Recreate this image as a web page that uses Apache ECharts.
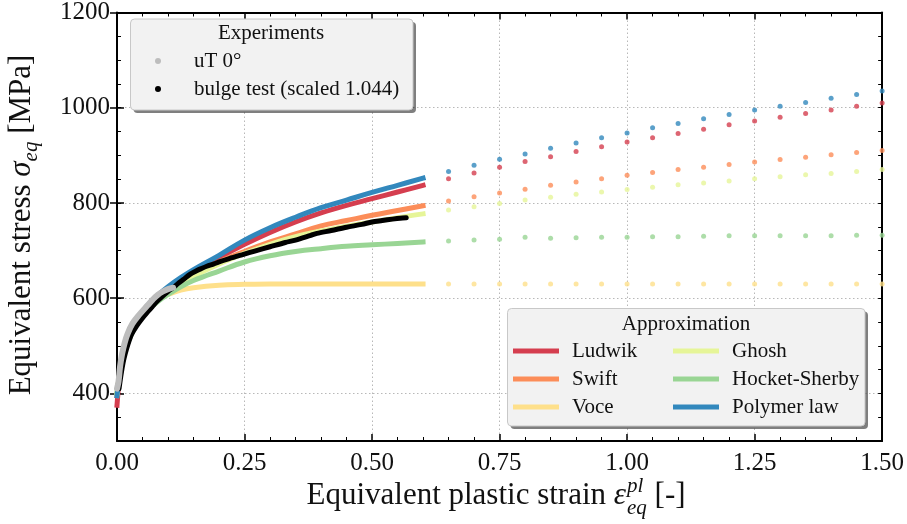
<!DOCTYPE html>
<html>
<head>
<meta charset="utf-8">
<script src="https://cdn.jsdelivr.net/npm/echarts@6/dist/echarts.min.js"></script>
<style>
  html, body { margin: 0; padding: 0; background: #ffffff; }
  #chart { width: 907px; height: 524px; }
</style>
</head>
<body>
<div id="chart"></div>
<script>
// ---- Fitted hardening curves over the measured range (strain, stress in MPa) ----
const fitStrain    = [0, 0.005, 0.01, 0.02, 0.03, 0.04, 0.06, 0.08, 0.1, 0.125, 0.15, 0.2, 0.25, 0.3, 0.35, 0.4, 0.45, 0.5, 0.55, 0.6];
const ludwik       = [375, 435, 466, 508, 535, 555, 583, 604, 621, 640, 656, 685, 713, 738, 760, 779, 795, 809, 823, 837];
const swift        = [395, 440, 468, 508, 534, 553, 580, 600, 617, 635, 650, 676, 698, 718, 735, 752, 763, 774, 784, 794];
const voce         = [400, 440, 468, 508, 533, 552, 578, 597, 608, 617, 622, 627, 629, 630, 630, 630, 630, 630, 630, 630];
const ghosh        = [400, 438, 465, 505, 531, 550, 577, 597, 614, 632, 646, 672, 694, 713, 729, 741, 751, 760, 769, 777];
const hocketSherby = [400, 436, 462, 502, 528, 547, 574, 593, 608, 624, 637, 657, 676, 689, 698, 704, 709, 712, 715, 718];
const polymerLaw   = [395, 440, 470, 512, 538, 557, 585, 606, 624, 643, 660, 690, 722, 748, 770, 790, 806, 822, 837, 852];

// ---- Extrapolated values beyond the measured range ----
const extStrain       = [0.65, 0.7, 0.75, 0.8, 0.85, 0.9, 0.95, 1.0, 1.05, 1.1, 1.15, 1.2, 1.25, 1.3, 1.35, 1.4, 1.45, 1.5];
const ludwikExt       = [851, 863, 875, 887, 897, 908, 918, 928, 937, 946, 955, 964, 972, 980, 988, 995, 1003, 1010];
const swiftExt        = [804, 813, 821, 829, 837, 844, 851, 858, 864, 870, 875, 881, 886, 891, 896, 901, 906, 910];
const voceExt         = [630, 630, 630, 630, 630, 630, 630, 630, 630, 630, 630, 630, 630, 630, 630, 630, 630, 630];
const ghoshExt        = [785, 792, 799, 806, 812, 818, 823, 828, 833, 838, 842, 846, 851, 855, 859, 862, 866, 870];
const hocketSherbyExt = [720, 722, 724, 728, 726, 727, 728, 728, 729, 729, 730, 731, 731, 731, 731, 731, 732, 732];
const polymerLawExt   = [866, 879, 892, 903, 915, 926, 937, 947, 958, 967, 977, 986, 995, 1003, 1011, 1020, 1028, 1035];

// ---- Experiments ----
const utStrain    = [0, 0.003, 0.006, 0.01, 0.015, 0.02, 0.03, 0.045, 0.06, 0.07, 0.08, 0.09, 0.1, 0.11];
const utStress    = [410, 425, 456, 483, 506, 523, 546, 567, 585, 597, 607, 614, 619, 622];
const bulgeStrain = [0.004, 0.008, 0.012, 0.016, 0.022, 0.029, 0.038, 0.049, 0.06, 0.069, 0.08, 0.09, 0.1, 0.11, 0.12, 0.13, 0.143, 0.155, 0.165, 0.176, 0.19, 0.2, 0.22, 0.248, 0.27, 0.3, 0.33, 0.35, 0.38, 0.392, 0.42, 0.45, 0.48, 0.5, 0.52, 0.54, 0.555, 0.567];
const bulgeStress = [410, 440, 465, 483, 505, 525, 541, 557, 571, 582, 595, 605, 614, 622, 631, 639, 650, 657, 662, 667, 672, 676, 683, 692, 699, 708, 717, 722, 732, 736, 742, 749, 755, 760, 763, 766, 768, 769];

// ---- Axis ticks ----
const xMajorTicks = [0, 0.25, 0.5, 0.75, 1.0, 1.25, 1.5];
const yMajorTicks = [400, 600, 800, 1000, 1200];

const models = [
  { name: 'Ludwik',        fit: ludwik,       ext: ludwikExt,       color: '#d53e4f' },
  { name: 'Swift',         fit: swift,        ext: swiftExt,        color: '#fc8d59' },
  { name: 'Voce',          fit: voce,         ext: voceExt,         color: '#fee08b' },
  { name: 'Ghosh',         fit: ghosh,        ext: ghoshExt,        color: '#e6f598' },
  { name: 'Hocket-Sherby', fit: hocketSherby, ext: hocketSherbyExt, color: '#99d594' },
  { name: 'Polymer law',   fit: polymerLaw,   ext: polymerLawExt,   color: '#3288bd' }
];

const SERIF = '"Liberation Serif", "DejaVu Serif", serif';
const INK = '#111111';

const zip = (xs, ys) => xs.map((x, i) => [x, ys[i]]);

const series = [];
models.forEach(m => {
  series.push({
    type: 'line', name: m.name, data: zip(fitStrain, m.fit),
    xAxisIndex: 0, yAxisIndex: 1,
    symbol: 'none', smooth: 0.4,
    lineStyle: { width: 5, color: m.color, cap: 'square' },
    itemStyle: { color: m.color },
    silent: true, z: 2
  });
});
models.forEach(m => {
  series.push({
    type: 'scatter', name: m.name, data: zip(extStrain, m.ext),
    xAxisIndex: 0, yAxisIndex: 1,
    symbol: 'circle', symbolSize: 5,
    itemStyle: { color: m.color },
    silent: true, z: 2
  });
});
series.push({
  type: 'line', name: 'bulge test (scaled 1.044)', data: zip(bulgeStrain, bulgeStress),
  xAxisIndex: 0, yAxisIndex: 1, symbol: 'none', smooth: 0.3,
  lineStyle: { width: 5, color: '#000000', cap: 'round', join: 'round' },
  itemStyle: { color: '#000000' }, silent: true, z: 3
});
series.push({
  type: 'line', name: 'uT 0°', data: zip(utStrain, utStress),
  xAxisIndex: 0, yAxisIndex: 1, symbol: 'none', smooth: 0.4,
  lineStyle: { width: 6, color: '#bdbdbd', cap: 'round' },
  itemStyle: { color: '#bdbdbd' }, silent: true, z: 4
});

const frameLine = { show: true, onZero: false, lineStyle: { color: '#000', width: 2 } };
const gridDots = { show: true, lineStyle: { color: '#b8b8b8', width: 1, type: [1.5, 2.5] } };

const xAxisBase = {
  type: 'value', min: 0, max: 1.5, interval: 0.25,
  axisLine: frameLine,
  axisTick: { show: true, inside: true, length: 7, lineStyle: { color: '#000', width: 1.5 } },
  minorTick: { show: true, splitNumber: 5, length: 4, lineStyle: { color: '#000', width: 1 } }
};

const yMinor = (pos) => ({
  type: 'value', position: pos, min: 300, max: 1200, interval: 50,
  axisLine: frameLine,
  axisTick: { show: true, inside: true, length: 4, lineStyle: { color: '#000', width: 1 } },
  axisLabel: { show: false }, splitLine: { show: false }
});
const yMajor = (pos, withLabels) => ({
  type: 'value', position: pos, min: 300, max: 1200, interval: 50,
  axisLine: { show: false },
  axisTick: { show: true, inside: true, length: 7, customValues: yMajorTicks, lineStyle: { color: '#000', width: 1.5 } },
  axisLabel: withLabels
    ? { show: true, customValues: yMajorTicks, margin: 7, fontFamily: SERIF, fontSize: 25, color: INK, formatter: v => String(v) }
    : { show: false },
  splitLine: withLabels ? gridDots : { show: false }
});

// ---- Titles with sub/superscripts, laid out from measured text widths ----
const measureCtx = document.createElement('canvas').getContext('2d');
function textWidth(str, font) { measureCtx.font = font; return measureCtx.measureText(str).width; }
const fMain = `31px ${SERIF}`;
const fMainIt = `italic 31px ${SERIF}`;
const fSmallIt = `italic 21px ${SERIF}`;

function txt(x, y, text, font, align) {
  return {
    type: 'text', x: x, y: y, z: 70,
    style: { text: text, font: font, fill: INK, align: align || 'left', verticalAlign: 'middle' }
  };
}

// x title: Equivalent plastic strain ε_eq^pl [-]
const xt1 = 'Equivalent plastic strain ';
const xt4 = ' [-]';
const wx1 = textWidth(xt1, fMain);
const wEps = textWidth('ε', fMainIt);
const wScript = Math.max(textWidth('pl', fSmallIt), textWidth('eq', fSmallIt));
const wx4 = textWidth(xt4, fMain);
const xTotal = wx1 + wEps + 1 + wScript + wx4;
const xStart = 496 - xTotal / 2;
const xMid = 496;
const xTitle = [
  txt(xStart, xMid, xt1, fMain),
  txt(xStart + wx1, xMid, 'ε', fMainIt),
  txt(xStart + wx1 + wEps + 1, xMid - 10, 'pl', fSmallIt),
  txt(xStart + wx1 + wEps + 1, xMid + 12, 'eq', fSmallIt),
  txt(xStart + wx1 + wEps + 1 + wScript, xMid, xt4, fMain)
];

// y title: Equivalent stress σ_eq [MPa]
const yt1 = 'Equivalent stress ';
const yt4 = ' [MPa]';
const wy1 = textWidth(yt1, fMain);
const wSig = textWidth('σ', fMainIt);
const wEq = textWidth('eq', fSmallIt);
const wy4 = textWidth(yt4, fMain);
const yTotal = wy1 + wSig + wEq + wy4;
const y0 = -yTotal / 2;
const yTitle = {
  type: 'group', x: 22, y: 225, rotation: Math.PI / 2, z: 70,
  children: [
    txt(y0, 0, yt1, fMain),
    txt(y0 + wy1, 0, 'σ', fMainIt),
    txt(y0 + wy1 + wSig, 9, 'eq', fSmallIt),
    txt(y0 + wy1 + wSig + wEq, 0, yt4, fMain)
  ]
};

// ---- Legend frames (with drop shadow) and their headings ----
function legendFrame(x, y, w, h) {
  return [
    { type: 'rect', z: 50, shape: { x: x + 3, y: y + 3, width: w, height: h, r: 4 }, style: { fill: 'rgba(0,0,0,0.5)' } },
    { type: 'rect', z: 51, shape: { x: x, y: y, width: w, height: h, r: 4 }, style: { fill: '#f2f2f2', stroke: '#c8c8c8', lineWidth: 1 } }
  ];
}
const fLegend = `21px ${SERIF}`;
const legendHeads = [
  txt(271, 33, 'Experiments', fLegend, 'center'),
  txt(686, 324, 'Approximation', fLegend, 'center')
];

const legendBase = {
  orient: 'vertical', padding: 0, itemGap: 0, selectedMode: false, z: 60,
  itemStyle: { borderWidth: 0 }
};
const legendText = (pad) => ({ fontFamily: SERIF, fontSize: 21, lineHeight: 28, color: INK, padding: [0, 0, 0, pad] });

const option = {
  animation: false,
  backgroundColor: '#ffffff',
  grid: { left: 117, right: 24, top: 9, bottom: 83, containLabel: false },
  xAxis: [
    Object.assign({}, xAxisBase, {
      position: 'bottom',
      axisLabel: { show: true, margin: 10, fontFamily: SERIF, fontSize: 25, color: INK, formatter: v => v.toFixed(2) },
      splitLine: gridDots
    }),
    Object.assign({}, xAxisBase, {
      position: 'top',
      axisLabel: { show: false },
      splitLine: { show: false }
    })
  ],
  yAxis: [yMinor('left'), yMajor('left', true), yMinor('right'), yMajor('right', false)],
  legend: [
    Object.assign({}, legendBase, {
      left: 155, top: 47, itemWidth: 6, itemHeight: 6, textStyle: legendText(28),
      data: [{ name: 'uT 0°', icon: 'circle' }, { name: 'bulge test (scaled 1.044)', icon: 'circle' }]
    }),
    Object.assign({}, legendBase, {
      left: 513, top: 337, itemWidth: 46, itemHeight: 5, textStyle: legendText(8),
      data: [{ name: 'Ludwik', icon: 'rect' }, { name: 'Swift', icon: 'rect' }, { name: 'Voce', icon: 'rect' }]
    }),
    Object.assign({}, legendBase, {
      left: 673, top: 337, itemWidth: 46, itemHeight: 5, textStyle: legendText(8),
      data: [{ name: 'Ghosh', icon: 'rect' }, { name: 'Hocket-Sherby', icon: 'rect' }, { name: 'Polymer law', icon: 'rect' }]
    })
  ],
  graphic: [].concat(
    legendFrame(130.5, 19, 282.5, 91),
    legendFrame(507.5, 308.5, 357.5, 117.5),
    legendHeads,
    xTitle,
    [yTitle]
  ),
  series: series
};

const chart = echarts.init(document.getElementById('chart'), null, { renderer: 'canvas' });
chart.setOption(option);
</script>
</body>
</html>
